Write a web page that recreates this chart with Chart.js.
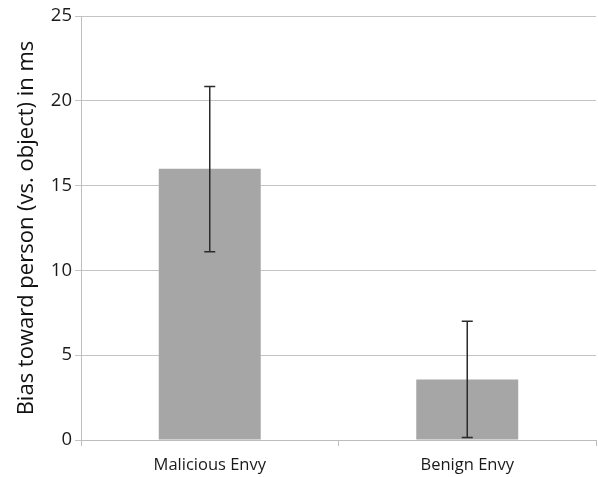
<!DOCTYPE html>
<html lang="en">
<head>
<meta charset="UTF-8">
<title>Bias toward person</title>
<script src="https://cdn.jsdelivr.net/npm/chart.js"></script>
<style>
  html, body { margin: 0; padding: 0; background: #fff; }
  #wrap { width: 598px; height: 477px; }
</style>
</head>
<body>
<div id="wrap"><canvas id="biasChart" width="598" height="477"></canvas></div>
<script>
const categories = ['Malicious Envy', 'Benign Envy'];
const biasMeans = [16.0, 3.57];
const errUpper = [20.85, 7.0];
const errLower = [11.1, 0.15];
const yTicks = [0, 5, 10, 15, 20, 25];

const fontFamily = "'Open Sans', 'Liberation Sans', sans-serif";

// draws the whiskers from the values above
const errorBars = {
    id: 'errorBars',
    afterDatasetsDraw(chart) {
        const ctx = chart.ctx;
        const x = chart.scales.x, y = chart.scales.y;
        ctx.save();
        ctx.strokeStyle = '#2b2b2b';
        ctx.lineWidth = 1.5;
        categories.forEach((c, i) => {
            const px = x.getPixelForValue(i);
            const top = y.getPixelForValue(errUpper[i]);
            const bot = y.getPixelForValue(errLower[i]);
            ctx.beginPath();
            ctx.moveTo(px, top); ctx.lineTo(px, bot);
            ctx.moveTo(px - 5.5, top); ctx.lineTo(px + 5.5, top);
            ctx.moveTo(px - 5.5, bot); ctx.lineTo(px + 5.5, bot);
            ctx.stroke();
        });
        ctx.restore();
    }
};

new Chart(document.getElementById('biasChart'), {
    type: 'bar',
    data: {
        labels: categories,
        datasets: [{
            data: biasMeans,
            backgroundColor: '#a6a6a6',
            categoryPercentage: 1,
            barPercentage: 0.396
        }]
    },
    options: {
        responsive: false,
        animation: false,
        layout: { padding: { top: 16, right: 2, left: 0, bottom: 0 } },
        plugins: { legend: { display: false }, tooltip: { enabled: false } },
        scales: {
            x: {
                grid: { drawOnChartArea: false, color: '#bdbdbd', tickLength: 6, offset: true },
                border: { color: '#bdbdbd' },
                ticks: { color: '#1a1a1a', font: { family: fontFamily, size: 16.5 }, padding: 9 },
                afterFit(scale) { scale.height = 37; }
            },
            y: {
                min: 0,
                max: 25,
                afterBuildTicks(scale) { scale.ticks = yTicks.map(v => ({ value: v })); },
                grid: { color: '#c4c4c4', tickLength: 6 },
                border: { color: '#bdbdbd' },
                ticks: { color: '#1a1a1a', font: { family: fontFamily, size: 18.5 }, padding: 3 },
                title: {
                    display: true,
                    text: 'Bias toward person (vs. object) in ms',
                    color: '#111',
                    font: { family: fontFamily, size: 22 },
                    padding: { top: 14, bottom: 4 }
                },
                afterFit(scale) { scale.width = 81; }
            }
        }
    },
    plugins: [errorBars]
});
</script>
</body>
</html>
